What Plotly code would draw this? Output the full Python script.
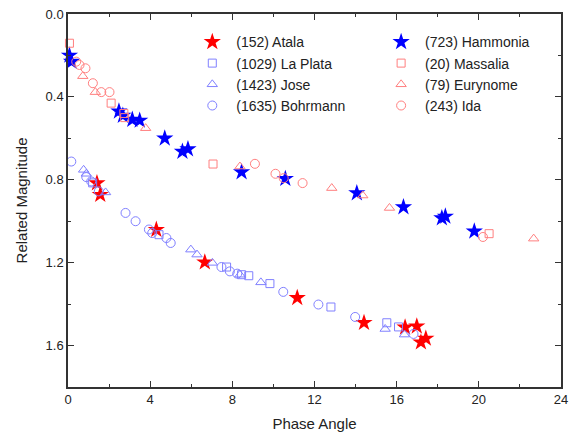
import plotly.graph_objects as go

# (152) Atala
atala_x = [1.41, 1.57, 4.30, 6.66, 11.16, 14.41, 16.41, 16.98, 17.18, 17.42]
atala_y = [0.816, 0.872, 1.041, 1.198, 1.370, 1.490, 1.512, 1.507, 1.584, 1.566]
# (1029) La Plata
laplata_x = [1.20, 4.43, 7.72, 8.45, 8.80, 9.83, 12.80, 15.52, 16.09]
laplata_y = [0.815, 1.065, 1.221, 1.258, 1.263, 1.301, 1.414, 1.490, 1.510]
# (1423) Jose
jose_x = [0.76, 0.89, 1.83, 5.98, 6.28, 7.03, 8.37, 9.39, 15.44, 16.38]
jose_y = [0.752, 0.771, 0.861, 1.137, 1.161, 1.201, 1.258, 1.295, 1.520, 1.547]
# (1635) Bohrmann
bohr_x = [0.16, 0.89, 1.13, 1.50, 2.80, 3.29, 3.94, 4.10, 4.79, 5.00, 7.47, 7.88, 8.24, 10.48, 12.19, 13.98, 16.82]
bohr_y = [0.712, 0.787, 0.808, 0.856, 0.960, 1.000, 1.040, 1.057, 1.081, 1.105, 1.221, 1.242, 1.253, 1.341, 1.402, 1.462, 1.544]
# (723) Hammonia
hamm_x = [0.07, 0.17, 2.48, 2.67, 3.13, 3.49, 4.71, 5.57, 5.84, 8.45, 10.58, 14.06, 16.33, 18.20, 18.37, 19.78]
hamm_y = [0.200, 0.230, 0.470, 0.490, 0.510, 0.514, 0.600, 0.664, 0.652, 0.763, 0.795, 0.864, 0.932, 0.985, 0.977, 1.049]
# (20) Massalia
mass_x = [0.07, 2.10, 2.72, 2.76, 7.06, 20.50]
mass_y = [0.141, 0.430, 0.480, 0.500, 0.724, 1.060]
# (79) Eurynome
eury_x = [0.72, 1.33, 3.78, 8.37, 12.84, 14.35, 15.65, 22.67]
eury_y = [0.300, 0.377, 0.551, 0.736, 0.840, 0.876, 0.936, 1.084]
# (243) Ida
ida_x = [0.40, 0.56, 0.85, 1.21, 1.62, 2.02, 9.10, 10.10, 10.50, 11.42, 20.20]
ida_y = [0.230, 0.246, 0.262, 0.334, 0.377, 0.377, 0.723, 0.771, 0.792, 0.816, 1.076]

x_ticks = [0, 4, 8, 12, 16, 20, 24]
y_ticks = [0.0, 0.4, 0.8, 1.2, 1.6]

RED = "#ff0000"
BLUE = "#0000ff"
LRED = "#ff7f7f"
LBLUE = "#8080ff"
FONT = "Liberation Sans, Arial"

fig = go.Figure()

def add(name, xs, ys, symbol, color, size, legend, filled=False):
    if filled:
        marker = dict(symbol=symbol, size=size, color=color, line=dict(width=0))
    else:
        marker = dict(symbol=symbol + "-open", size=size, color=color, line=dict(width=1, color=color))
    fig.add_trace(go.Scatter(x=xs, y=ys, mode="markers", name=name, marker=marker,
                             legend=legend, cliponaxis=False))

add("(152) Atala", atala_x, atala_y, "star", RED, 13, "legend", filled=True)
add("(1029) La Plata", laplata_x, laplata_y, "square", LBLUE, 8, "legend")
add("(1423) Jose", jose_x, jose_y, "triangle-up", LBLUE, 9, "legend")
add("(1635) Bohrmann", bohr_x, bohr_y, "circle", LBLUE, 9, "legend")
add("(723) Hammonia", hamm_x, hamm_y, "star", BLUE, 13, "legend2", filled=True)
add("(20) Massalia", mass_x, mass_y, "square", LRED, 8, "legend2")
add("(79) Eurynome", eury_x, eury_y, "triangle-up", LRED, 9, "legend2")
add("(243) Ida", ida_x, ida_y, "circle", LRED, 9, "legend2")

axis_common = dict(
    showline=True, linecolor="#333333", linewidth=1.5, mirror="ticks",
    ticks="inside", ticklen=6, tickwidth=1.2, tickcolor="#333333",
    showgrid=False, zeroline=False, automargin=False,
    tickfont=dict(family=FONT, size=13, color="#222222"),
)

fig.update_xaxes(
    range=[0, 24], tickvals=x_ticks, ticktext=[str(v) for v in x_ticks],
    minor=dict(ticks="inside", ticklen=3, tickwidth=1.2, tickcolor="#333333", dtick=2, tick0=0),
    title=dict(text="Phase Angle", font=dict(family=FONT, size=15, color="#222222"), standoff=12),
    **axis_common,
)
fig.update_yaxes(
    range=[1.8, 0.0], tickvals=y_ticks, ticktext=[f"{v:.1f}" for v in y_ticks],
    minor=dict(ticks="inside", ticklen=3, tickwidth=1.2, tickcolor="#333333", dtick=0.2, tick0=0),
    title=dict(text="Related Magnitude", font=dict(family=FONT, size=15, color="#222222"), standoff=14),
    **axis_common,
)

legend_common = dict(
    font=dict(family=FONT, size=14, color="#222222"),
    bgcolor="rgba(0,0,0,0)", borderwidth=0, tracegroupgap=0,
    xanchor="left", yanchor="top", itemsizing="trace", itemwidth=38,
)
fig.update_layout(
    width=574, height=439,
    margin=dict(l=68, r=13, t=14, b=52, autoexpand=False),
    paper_bgcolor="white", plot_bgcolor="white",
    showlegend=True,
    legend=dict(x=0.244, y=0.967, **legend_common),
    legend2=dict(x=0.627, y=0.967, **legend_common),
)

fig.write_html("out.html", config={"displayModeBar": False},
               post_script="document.body.style.margin='0';document.body.style.overflow='hidden';")
